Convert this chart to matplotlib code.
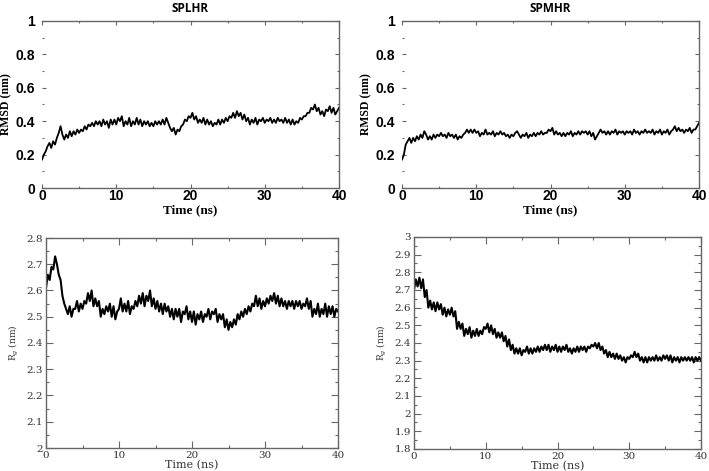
import numpy as np
import matplotlib
matplotlib.use("Agg")
import matplotlib.pyplot as plt
from matplotlib.ticker import MultipleLocator

# ── data (values every 0.25 ns) ────────────────────────────────────────────
time_ns = np.arange(0, 40.001, 0.25)

rmsd_splhr = [
    0.17, 0.20, 0.22, 0.25, 0.27, 0.24, 0.28, 0.26,
    0.30, 0.33, 0.37, 0.32, 0.29, 0.32, 0.30, 0.34,
    0.31, 0.34, 0.32, 0.35, 0.33, 0.35, 0.34, 0.37,
    0.35, 0.38, 0.37, 0.39, 0.37, 0.40, 0.38, 0.40,
    0.37, 0.41, 0.38, 0.40, 0.36, 0.41, 0.38, 0.41,
    0.38, 0.42, 0.40, 0.43, 0.37, 0.40, 0.38, 0.42,
    0.37, 0.40, 0.38, 0.42, 0.38, 0.41, 0.37, 0.40,
    0.38, 0.40, 0.37, 0.39, 0.37, 0.40, 0.38, 0.40,
    0.38, 0.41, 0.38, 0.42, 0.39, 0.36, 0.34, 0.36,
    0.32, 0.35, 0.34, 0.37, 0.38, 0.41, 0.40, 0.43,
    0.42, 0.45, 0.41, 0.43, 0.39, 0.41, 0.39, 0.42,
    0.38, 0.41, 0.38, 0.40, 0.37, 0.39, 0.38, 0.41,
    0.38, 0.41, 0.39, 0.42, 0.40, 0.43, 0.42, 0.45,
    0.42, 0.46, 0.43, 0.45, 0.41, 0.44, 0.40, 0.42,
    0.38, 0.41, 0.39, 0.42, 0.38, 0.41, 0.40, 0.42,
    0.39, 0.41, 0.40, 0.42, 0.39, 0.41, 0.39, 0.42,
    0.40, 0.41, 0.39, 0.42, 0.39, 0.41, 0.38, 0.41,
    0.38, 0.40, 0.39, 0.42, 0.41, 0.43, 0.43, 0.45,
    0.45, 0.48, 0.47, 0.50, 0.46, 0.48, 0.44, 0.46,
    0.43, 0.47, 0.46, 0.49, 0.45, 0.48, 0.44, 0.46,
    0.48,
]
rmsd_spmhr = [
    0.17, 0.20, 0.26, 0.28, 0.30, 0.27, 0.30, 0.28,
    0.31, 0.29, 0.32, 0.30, 0.34, 0.32, 0.29, 0.31,
    0.29, 0.32, 0.30, 0.32, 0.31, 0.33, 0.31, 0.32,
    0.30, 0.33, 0.31, 0.32, 0.30, 0.32, 0.29, 0.31,
    0.30, 0.32, 0.33, 0.35, 0.33, 0.35, 0.33, 0.35,
    0.33, 0.34, 0.31, 0.33, 0.32, 0.35, 0.32, 0.33,
    0.32, 0.34, 0.31, 0.33, 0.32, 0.34, 0.32, 0.33,
    0.31, 0.32, 0.30, 0.32, 0.31, 0.33, 0.34, 0.32,
    0.30, 0.32, 0.31, 0.33, 0.30, 0.32, 0.31, 0.33,
    0.31, 0.33, 0.32, 0.34, 0.32, 0.33, 0.33, 0.35,
    0.34, 0.36, 0.32, 0.34, 0.32, 0.33, 0.31, 0.33,
    0.31, 0.33, 0.32, 0.34, 0.31, 0.33, 0.32, 0.34,
    0.32, 0.34, 0.33, 0.34, 0.32, 0.34, 0.31, 0.33,
    0.29, 0.31, 0.33, 0.35, 0.33, 0.34, 0.32, 0.34,
    0.32, 0.34, 0.33, 0.35, 0.32, 0.34, 0.33, 0.34,
    0.32, 0.34, 0.33, 0.34, 0.32, 0.35, 0.33, 0.34,
    0.32, 0.34, 0.33, 0.35, 0.33, 0.34, 0.33, 0.35,
    0.32, 0.34, 0.33, 0.35, 0.32, 0.34, 0.33, 0.35,
    0.32, 0.34, 0.35, 0.37, 0.34, 0.36, 0.34, 0.35,
    0.33, 0.35, 0.34, 0.36, 0.33, 0.35, 0.35, 0.37,
    0.39,
]
rg_splhr = [
    2.61, 2.66, 2.64, 2.69, 2.68, 2.73, 2.70, 2.66,
    2.64, 2.58, 2.55, 2.53, 2.51, 2.54, 2.50, 2.53,
    2.53, 2.56, 2.52, 2.55, 2.53, 2.56, 2.55, 2.59,
    2.56, 2.60, 2.54, 2.57, 2.54, 2.56, 2.50, 2.53,
    2.51, 2.54, 2.52, 2.55, 2.50, 2.54, 2.49, 2.52,
    2.53, 2.57, 2.52, 2.55, 2.52, 2.56, 2.51, 2.54,
    2.53, 2.56, 2.54, 2.58, 2.55, 2.59, 2.54, 2.58,
    2.56, 2.60, 2.54, 2.57, 2.53, 2.56, 2.52, 2.55,
    2.51, 2.55, 2.52, 2.54, 2.50, 2.53, 2.49, 2.53,
    2.50, 2.53, 2.48, 2.52, 2.51, 2.54, 2.49, 2.52,
    2.48, 2.52, 2.47, 2.51, 2.49, 2.52, 2.48, 2.51,
    2.50, 2.53, 2.49, 2.52, 2.51, 2.53, 2.48, 2.51,
    2.49, 2.51, 2.46, 2.49, 2.45, 2.48, 2.46, 2.49,
    2.47, 2.51, 2.49, 2.52, 2.50, 2.53, 2.51, 2.54,
    2.52, 2.55, 2.54, 2.58, 2.54, 2.57, 2.53, 2.56,
    2.54, 2.57, 2.55, 2.58, 2.56, 2.59, 2.55, 2.58,
    2.54, 2.57, 2.54, 2.56, 2.53, 2.56, 2.54, 2.56,
    2.53, 2.56, 2.54, 2.56, 2.53, 2.55, 2.54, 2.57,
    2.53, 2.56, 2.50, 2.53, 2.51, 2.55, 2.50, 2.53,
    2.51, 2.55, 2.50, 2.54, 2.51, 2.54, 2.50, 2.53,
    2.52,
]
rg_spmhr = [
    2.70, 2.76, 2.72, 2.77, 2.71, 2.76, 2.66, 2.70,
    2.60, 2.64, 2.59, 2.63, 2.58, 2.63, 2.59, 2.62,
    2.56, 2.60, 2.55, 2.59, 2.56, 2.60, 2.55, 2.58,
    2.48, 2.52, 2.48, 2.51, 2.44, 2.48, 2.45, 2.49,
    2.43, 2.47, 2.44, 2.48, 2.44, 2.47, 2.45, 2.49,
    2.48, 2.51, 2.46, 2.50, 2.45, 2.48, 2.43, 2.46,
    2.43, 2.46, 2.41, 2.44, 2.38, 2.42, 2.36, 2.39,
    2.34, 2.37, 2.34, 2.37, 2.33, 2.36, 2.35, 2.38,
    2.34, 2.37, 2.34, 2.37, 2.35, 2.38, 2.35, 2.38,
    2.36, 2.39, 2.36, 2.39, 2.35, 2.38, 2.36, 2.39,
    2.35, 2.38, 2.35, 2.38, 2.36, 2.39, 2.35, 2.37,
    2.34, 2.37, 2.35, 2.38, 2.35, 2.38, 2.36, 2.38,
    2.35, 2.38, 2.37, 2.39, 2.38, 2.40, 2.37, 2.40,
    2.36, 2.38, 2.34, 2.36, 2.32, 2.35, 2.32, 2.34,
    2.31, 2.34, 2.31, 2.33, 2.30, 2.32, 2.29, 2.32,
    2.31, 2.33, 2.32, 2.35, 2.32, 2.34, 2.30, 2.32,
    2.29, 2.32, 2.29, 2.32, 2.30, 2.32, 2.30, 2.33,
    2.30, 2.32, 2.30, 2.33, 2.31, 2.33, 2.30, 2.33,
    2.29, 2.32, 2.30, 2.32, 2.29, 2.32, 2.30, 2.32,
    2.30, 2.32, 2.30, 2.32, 2.29, 2.32, 2.30, 2.32,
    2.30,
]

titles = ["SPLHR", "SPMHR"]
rg_ylims = [(2.0, 2.8), (1.8, 3.0)]

SPINE = "#666666"
W, H = 709, 471


def px_axes(fig, x0, y0, x1, y1):
    # axes from pixel box (origin top-left)
    return fig.add_axes([x0 / W, 1 - y1 / H, (x1 - x0) / W, (y1 - y0) / H])


def style_rmsd(ax):
    ax.set_xlim(0, 40)
    ax.set_ylim(0, 1)
    ax.spines["left"].set_visible(False)
    for s in ("top", "right", "bottom"):
        ax.spines[s].set_color(SPINE)
        ax.spines[s].set_linewidth(1.0)
    ax.xaxis.set_major_locator(MultipleLocator(10))
    ax.xaxis.set_minor_locator(MultipleLocator(5))
    ax.yaxis.set_major_locator(MultipleLocator(0.2))
    ax.yaxis.set_minor_locator(MultipleLocator(0.1))
    ax.tick_params(which="both", direction="in", top=True, right=True,
                   color=SPINE, width=0.8)
    ax.tick_params(which="major", length=3)
    ax.tick_params(which="minor", length=1.5)
    ax.tick_params(axis="x", pad=1)
    ax.tick_params(axis="y", pad=5)
    ax.set_yticks([0, 0.2, 0.4, 0.6, 0.8, 1.0])
    ax.set_yticklabels(["0", "0.2", "0.4", "0.6", "0.8", "1"])
    for lab in ax.get_xticklabels() + ax.get_yticklabels():
        lab.set_family("Liberation Sans")
        lab.set_fontweight("bold")
        lab.set_fontsize(10)
    ax.set_xlabel("Time (ns)", family="Liberation Serif", fontweight="bold",
                  fontsize=9.5, labelpad=0.5)
    ax.set_ylabel("RMSD (nm)", family="Liberation Serif", fontweight="bold",
                  fontsize=8.5, labelpad=2)


def style_rg(ax, ylim):
    ax.set_xlim(0, 40)
    ax.set_ylim(*ylim)
    for s in ax.spines.values():
        s.set_color(SPINE)
        s.set_linewidth(1.0)
    ax.xaxis.set_major_locator(MultipleLocator(10))
    ax.xaxis.set_minor_locator(MultipleLocator(5))
    ax.yaxis.set_major_locator(MultipleLocator(0.1))
    ax.yaxis.set_minor_locator(MultipleLocator(0.05))
    ax.tick_params(which="both", direction="in", top=True, right=True,
                   color=SPINE, width=0.8, labelsize=7.5)
    ax.tick_params(which="major", length=5)
    ax.tick_params(which="minor", length=2.5)
    ax.tick_params(axis="both", pad=2)
    yt = np.round(np.arange(ylim[0], ylim[1] + 0.001, 0.1), 1)
    ax.set_yticks(yt)
    ax.set_yticklabels([f"{v:g}" for v in yt])
    for lab in ax.get_xticklabels() + ax.get_yticklabels():
        lab.set_family("DejaVu Serif")
        lab.set_color("#333333")
    ax.set_xlabel("Time (ns)", family="DejaVu Serif", fontsize=8,
                  color="#333333", labelpad=0)
    ax.set_ylabel(r"R$_g$ (nm)", family="DejaVu Serif", fontsize=6.5,
                  color="#333333", labelpad=4)


fig = plt.figure(figsize=(W / 100, H / 100), dpi=100)

ax_tl = px_axes(fig, 42, 21, 339, 188)
ax_tr = px_axes(fig, 402, 21, 699, 188)
ax_bl = px_axes(fig, 46, 238, 338, 448)
ax_br = px_axes(fig, 414, 237, 701, 449)

for ax, y in [(ax_tl, rmsd_splhr), (ax_tr, rmsd_spmhr)]:
    ax.plot(time_ns, y, color="black", lw=1.3)
    style_rmsd(ax)

for ax, y, lim in [(ax_bl, rg_splhr, rg_ylims[0]), (ax_br, rg_spmhr, rg_ylims[1])]:
    ax.plot(time_ns, y, color="black", lw=1.5)
    style_rg(ax, lim)

for ax, t in [(ax_tl, titles[0]), (ax_tr, titles[1])]:
    cx = (ax.get_position().x0 + ax.get_position().x1) / 2
    fig.text(cx, 1 - 8 / H, t, ha="center", va="center",
             family="Open Sans", fontweight="bold", fontsize=8.5)

fig.savefig("out.png", dpi=100)
